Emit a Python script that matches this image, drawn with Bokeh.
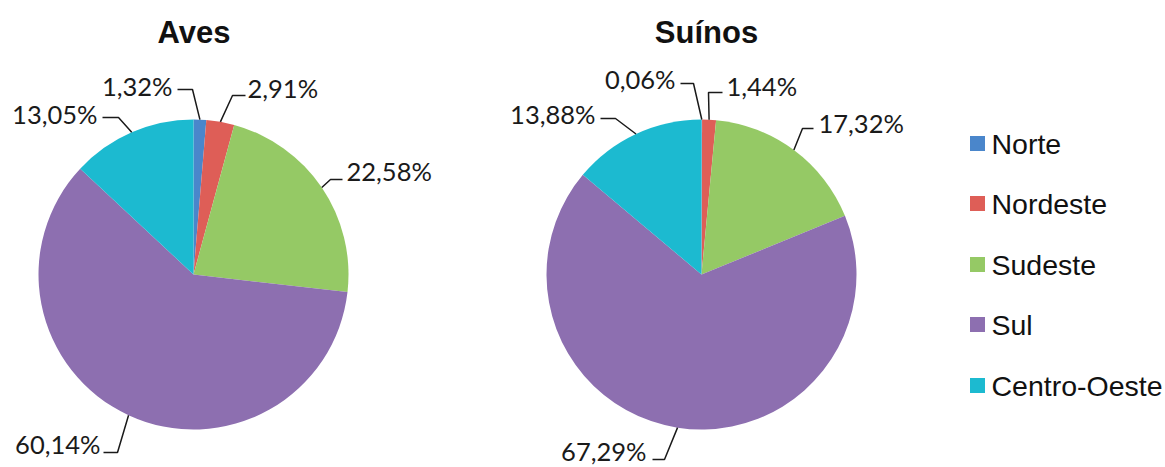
import math
from bokeh.plotting import figure
from bokeh.models import Range1d, ColumnDataSource
from bokeh.core.properties import value
from bokeh.embed import file_html
from bokeh.resources import INLINE

# ---- data ----
regions = ["Norte", "Nordeste", "Sudeste", "Sul", "Centro-Oeste"]
aves = [1.32, 2.91, 22.58, 60.14, 13.05]
suinos = [0.06, 1.44, 17.32, 67.29, 13.88]
titles = ["Aves", "Suínos"]
colors = ["#4A86CB", "#DE5E57", "#95C965", "#8D6FB0", "#1CBAD0"]

# ---- layout (picture pixel coordinates) ----
W, H = 1165, 467
centers = [(193, 274), (701, 274)]
R = 155
title_pos = [(193.5, 32), (706, 32)]
# per label: elbow x, elbow y, leader end x, text x, text y, align
label_layout = [
    [(192, 89, 177, 172, 85, "right"),
     (232, 95, 245, 247, 87, "left"),
     (330, 179, 342, 346, 170, "left"),
     (117, 452, 103, 100, 443, "right"),
     (118, 117, 102, 97, 113, "right")],
    [(693, 83, 680, 675, 78, "right"),
     (708, 92, 722, 726, 85, "left"),
     (802, 128, 813, 818, 122, "left"),
     (664, 459, 652, 646, 450, "right"),
     (615, 118, 600, 595, 113, "right")],
]
legend_x = 977
legend_text_x = 991
legend_y = [143, 203, 264, 324, 385]


def Y(py):
    return H - py


p = figure(width=W, height=H, output_backend="svg", toolbar_location=None,
           x_range=Range1d(0, W), y_range=Range1d(0, H),
           x_axis_location=None, y_axis_location=None, min_border=0)
p.grid.visible = False
p.outline_line_color = None
p.background_fill_color = "white"

for k, series in enumerate([aves, suinos]):
    cx, cy = centers[k]
    total = sum(series)
    cum = [0.0]
    for v in series:
        cum.append(cum[-1] + v / total)
    starts = [math.pi / 2 - 2 * math.pi * cum[i + 1] for i in range(len(series))]
    ends = [math.pi / 2 - 2 * math.pi * cum[i] for i in range(len(series))]
    src = ColumnDataSource(dict(start=starts, end=ends, color=colors))
    p.wedge(x=cx, y=Y(cy), radius=R, start_angle="start", end_angle="end",
            fill_color="color", line_color=None, source=src)

    xs, ys = [], []
    for i, v in enumerate(series):
        mid = (cum[i] + cum[i + 1]) / 2 * 2 * math.pi
        edge_x = cx + R * math.sin(mid)
        edge_y = cy - R * math.cos(mid)
        ex, ey, endx, txx, tyy, al = label_layout[k][i]
        xs.append([edge_x, ex, endx])
        ys.append([Y(edge_y), Y(ey), Y(ey)])
        txt = ("%.2f" % v).replace(".", ",") + "%"
        p.text(x=[txx], y=[Y(tyy)], text=[txt], text_align=al,
               text_baseline="middle", text_font=value("Lato"),
               text_font_size="25.5px", text_color="#1a1a1a")
    p.multi_line(xs=xs, ys=ys, line_color="#1a1a1a", line_width=1.5)

    tx0, ty0 = title_pos[k]
    p.text(x=[tx0], y=[Y(ty0)], text=[titles[k]], text_align="center",
           text_baseline="middle", text_font=value("Liberation Sans"),
           text_font_style="bold", text_font_size="31px", text_color="#111111")

p.rect(x=[legend_x] * len(regions), y=[Y(v) for v in legend_y], width=15, height=15,
       fill_color=colors, line_color=None)
p.text(x=[legend_text_x] * len(regions), y=[Y(v) for v in legend_y], text=regions,
       text_align="left", text_baseline="middle", text_font=value("Liberation Sans"),
       text_font_size="28.5px", text_color="#111111")

open("out.html", "w").write(file_html(p, INLINE))
